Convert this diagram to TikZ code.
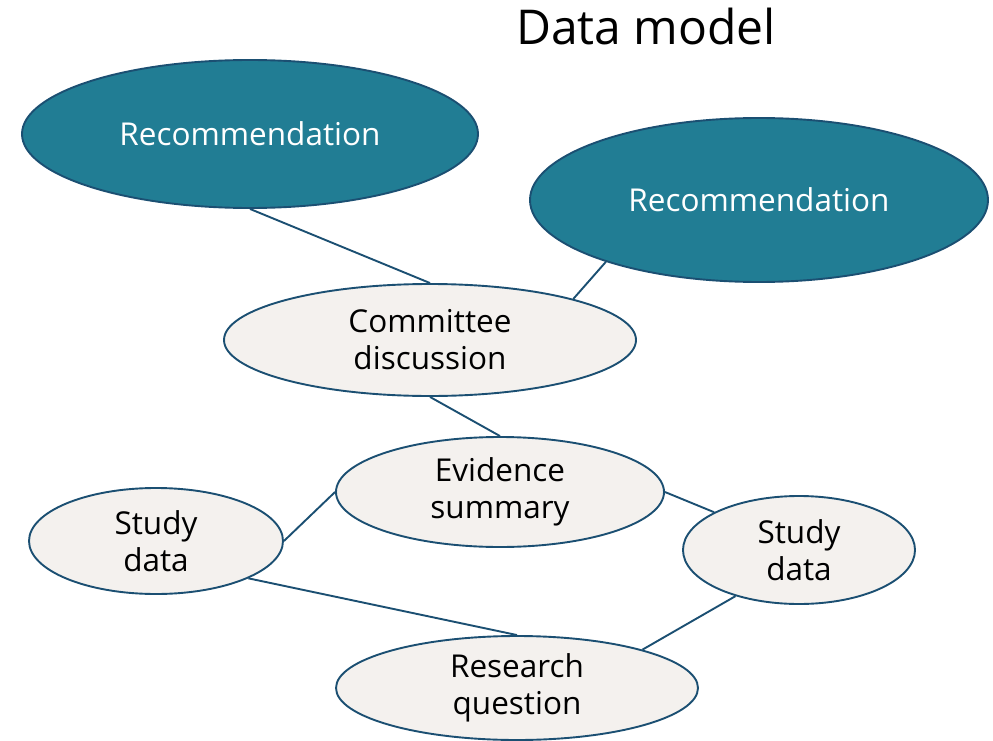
\documentclass[tikz,border=0pt]{standalone}
\usepackage{fontspec}
\setmainfont{Open Sans}
\usetikzlibrary{shapes.geometric}
\definecolor{teal}{HTML}{217D94}
\definecolor{edgeblue}{HTML}{1B4F72}
\definecolor{lightfill}{HTML}{F4F1EE}
\tikzset{
  recnode/.style={ellipse, draw=edgeblue, line width=1.9pt, fill=teal, text=white, inner sep=0pt, font=\fontsize{31.5}{36}\selectfont},
  datanode/.style={ellipse, draw=edgeblue, line width=1.9pt, fill=lightfill, text=black, inner sep=0pt, align=center, font=\fontsize{31.5}{37}\selectfont},
  link/.style={draw=edgeblue, line width=1.9pt}
}
\begin{document}
\begin{tikzpicture}[x=1pt,y=-1pt]
\useasboundingbox (0,0) rectangle (993,741);
\node[font=\fontsize{48}{54}\selectfont] (title) at (646,27) {Data model};
\node[recnode, minimum width=456, minimum height=148] (rec1) at (250,134) {Recommendation};
\node[recnode, minimum width=458, minimum height=164] (rec2) at (759,200) {Recommendation};
\node[datanode, minimum width=412, minimum height=112] (comm) at (430,340) {Committee\\discussion};
\node[datanode, minimum width=328, minimum height=110] (evid) at (500,492) {Evidence\\summary};
\node[datanode, minimum width=254, minimum height=106] (sdl) at (156,541) {Study\\data};
\node[datanode, minimum width=232, minimum height=108] (sdr) at (799,550) {Study\\data};
\node[datanode, minimum width=362, minimum height=104] (rq) at (517,688) {Research\\question};
\draw[link] (rec1.south) -- (comm.north);
\draw[link] (rec2.202) -- (comm.16);
\draw[link] (comm.south) -- (evid.north);
\draw[link] (evid.west) -- (sdl.east);
\draw[link] (evid.east) -- (sdr.156);
\draw[link] (sdl.-22) -- (rq.north);
\draw[link] (sdr.216) -- (rq.17);
\end{tikzpicture}
\end{document}
